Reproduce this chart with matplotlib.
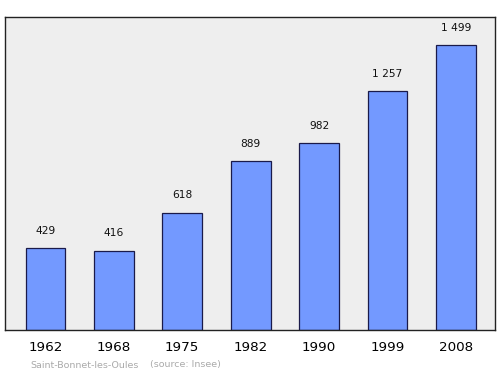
import matplotlib
matplotlib.use("Agg")
import matplotlib.pyplot as plt

years = ["1962", "1968", "1975", "1982", "1990", "1999", "2008"]
population = [429, 416, 618, 889, 982, 1257, 1499]
value_labels = ["429", "416", "618", "889", "982", "1 257", "1 499"]

fig = plt.figure(figsize=(5, 3.74), dpi=100)
ax = fig.add_axes([0.01, 0.1176, 0.98, 0.837])
ax.set_facecolor("#eeeeee")

x = range(len(years))
ax.bar(x, population, width=0.58, color="#7399ff", edgecolor="#1a1a4a", linewidth=0.9)

for i, (v, lab) in enumerate(zip(population, value_labels)):
    ax.annotate(lab, (i, v), xytext=(0, 9), textcoords="offset points",
                ha="center", va="bottom", fontsize=7.7, color="#111111")

ax.set_xlim(-0.59, 6.57)
ax.set_ylim(0, 1647)
ax.set_yticks([])
ax.set_xticks(list(x))
ax.set_xticklabels(years, fontsize=9.7)
ax.tick_params(axis="x", length=0, pad=8)
for s in ax.spines.values():
    s.set_linewidth(1.0)
    s.set_color("#222222")

fig.text(30 / 500, 1 - 365 / 374, "Saint-Bonnet-les-Oules", fontsize=6.8, color="#aaaaaa", va="center")
fig.text(150 / 500, 1 - 365 / 374, "(source: Insee)", fontsize=6.8, color="#aaaaaa", va="center")

fig.savefig("out.png", dpi=100)
